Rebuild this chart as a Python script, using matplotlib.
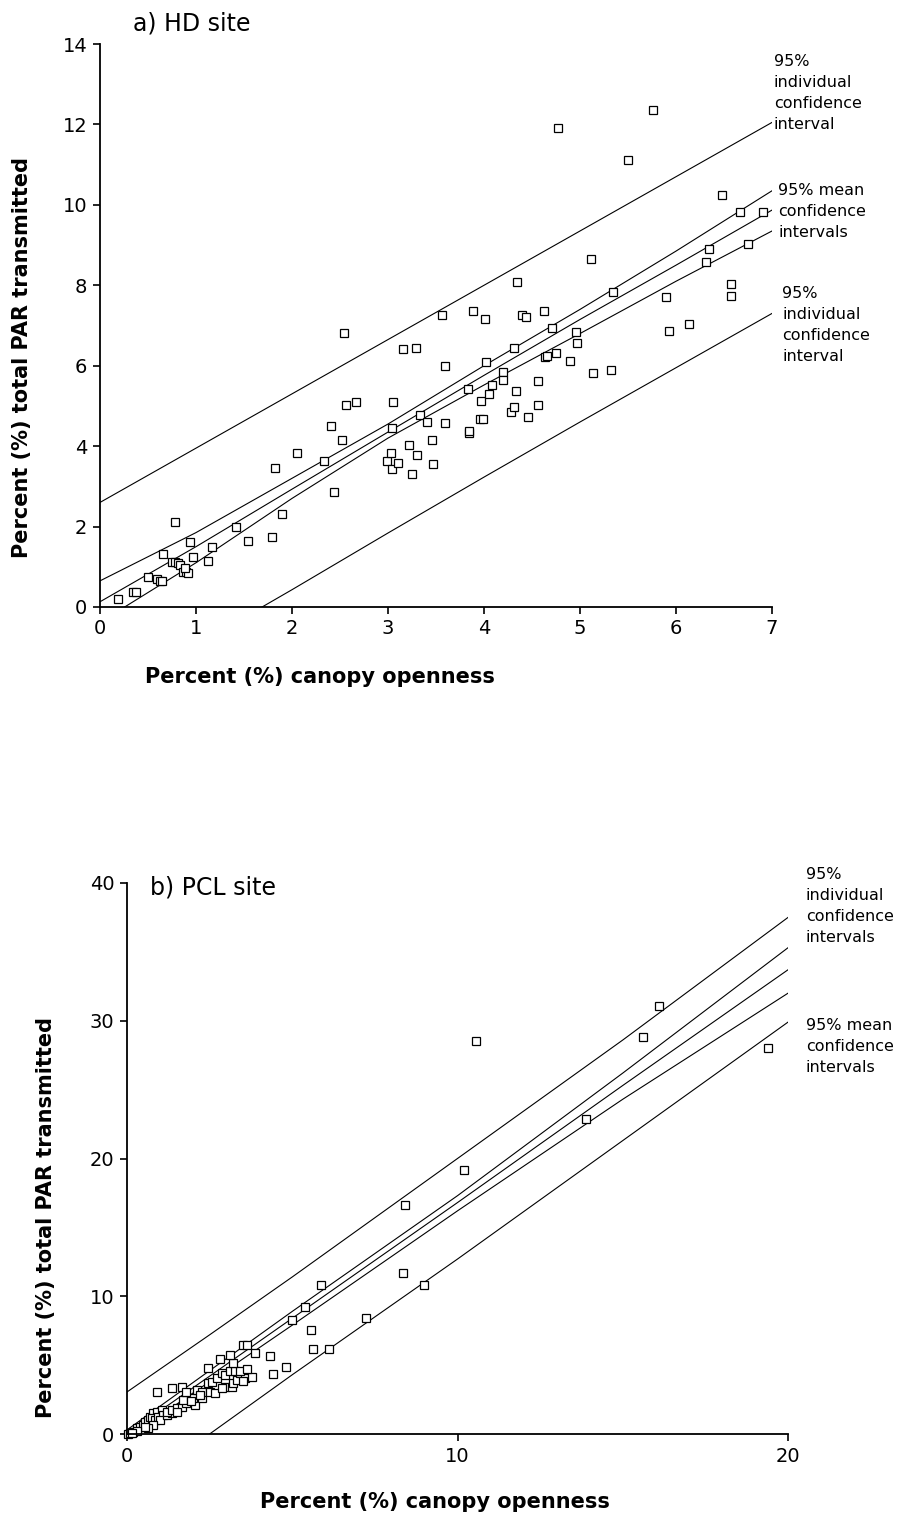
import matplotlib
matplotlib.use('Agg')
import matplotlib.pyplot as plt
import numpy as np

# ---- a) HD site: canopy openness vs PAR transmitted ----
hd_open = [0.19, 0.34, 0.38, 0.50, 0.59, 0.63, 0.65, 0.66, 0.75, 0.78,
           0.81, 0.83, 0.78, 0.86, 0.90, 0.92, 0.89, 0.94, 0.97, 1.13,
           1.17, 1.42, 1.54, 1.79, 1.82, 1.90, 2.05, 2.33, 2.41, 2.44,
           2.52, 2.56, 2.67, 2.54, 2.99, 3.03, 3.04, 3.05, 3.04, 3.10,
           3.16, 3.22, 3.25, 3.29, 3.30, 3.33, 3.41, 3.46, 3.47, 3.59,
           3.59, 3.83, 3.84, 3.84, 3.96, 3.99, 3.97, 4.02, 4.05, 4.08,
           4.20, 4.20, 4.28, 4.31, 4.31, 4.33, 4.46, 4.56, 4.56, 3.89,
           4.01, 4.40, 4.44, 4.63, 4.71, 4.96, 4.97, 4.64, 4.66, 4.75,
           4.90, 5.14, 5.32, 5.93, 6.14, 5.76, 4.77, 5.50, 6.48, 6.67,
           6.91, 6.34, 6.31, 6.75, 5.11, 5.34, 5.90, 6.57, 6.57, 4.34,
           3.56]
hd_par = [0.20, 0.37, 0.37, 0.75, 0.70, 0.65, 0.65, 1.32, 1.12, 1.12,
          1.09, 1.04, 2.11, 0.87, 0.87, 0.85, 0.97, 1.62, 1.25, 1.14,
          1.49, 2.00, 1.64, 1.74, 3.46, 2.31, 3.83, 3.63, 4.50, 2.86,
          4.15, 5.02, 5.10, 6.82, 3.63, 3.83, 4.45, 5.10, 3.43, 3.58,
          6.42, 4.03, 3.31, 6.44, 3.78, 4.78, 4.60, 4.15, 3.56, 6.00,
          4.58, 5.42, 4.33, 4.38, 4.68, 4.68, 5.12, 6.09, 5.30, 5.52,
          5.85, 5.65, 4.85, 4.98, 6.44, 5.37, 4.73, 5.62, 5.02, 7.36,
          7.16, 7.26, 7.21, 7.36, 6.94, 6.84, 6.57, 6.22, 6.24, 6.32,
          6.12, 5.82, 5.90, 6.87, 7.04, 12.36, 11.92, 11.12, 10.25, 9.83,
          9.83, 8.91, 8.58, 9.03, 8.66, 7.84, 7.71, 8.03, 7.74, 8.08,
          7.26]

hd_line_x = [0, 1, 2, 3, 4, 5, 6, 7]
hd_upper_ind = [2.60, 3.95, 5.30, 6.65, 8.00, 9.35, 10.70, 12.05]
hd_upper_mean = [0.65, 1.85, 3.20, 4.55, 6.00, 7.40, 8.85, 10.35]
hd_fit = [0.13, 1.50, 2.93, 4.35, 5.76, 7.15, 8.50, 9.87]
hd_lower_mean = [-0.38, 1.10, 2.70, 4.20, 5.52, 6.80, 8.10, 9.35]
hd_lower_ind = [-2.36, -0.95, 0.43, 1.84, 3.23, 4.60, 5.95, 7.30]

# ---- b) PCL site ----
pcl_open = [0.04, 0.09, 0.19, 0.29, 0.39, 0.49, 0.54, 0.64, 0.70, 0.80,
            0.90, 1.05, 0.75, 0.85, 0.95, 1.10, 1.00, 0.80, 0.64, 0.54,
            1.20, 1.35, 1.20, 1.35, 1.50, 1.66, 2.06, 1.80, 1.70, 2.00,
            2.26, 0.90, 1.35, 1.66, 1.80, 2.11, 2.26, 2.51, 2.66, 2.97,
            2.86, 3.17, 2.46, 2.56, 2.71, 3.22, 3.32, 3.42, 3.57, 3.77,
            2.86, 2.97, 3.12, 3.27, 3.42, 3.62, 2.46, 3.22, 2.81, 3.12,
            3.87, 3.52, 3.62, 4.33, 4.81, 4.41, 4.98, 5.39, 5.57, 5.62,
            6.12, 5.86, 7.22, 8.41, 8.36, 8.99, 10.20, 10.56, 13.90, 15.60,
            16.10, 19.40, 3.52, 1.50, 2.20, 1.95, 0.30, 0.15]
pcl_par = [0.00, 0.05, 0.17, 0.41, 0.53, 0.65, 0.89, 1.02, 1.26, 1.50,
           1.62, 1.74, 1.14, 1.02, 1.26, 1.38, 1.02, 0.65, 0.41, 0.53,
           1.38, 1.50, 1.62, 1.74, 1.86, 1.98, 2.10, 2.23, 2.47, 2.59,
           2.59, 3.07, 3.32, 3.44, 3.07, 3.20, 3.07, 3.07, 2.95, 3.44,
           3.32, 3.44, 3.68, 3.80, 4.04, 3.68, 3.92, 4.41, 4.04, 4.16,
           4.41, 4.28, 4.60, 4.60, 4.60, 4.70, 4.77, 5.18, 5.42, 5.74,
           5.90, 6.46, 6.46, 5.69, 4.89, 4.36, 8.30, 9.25, 7.55, 6.17,
           6.17, 10.80, 8.45, 16.60, 11.70, 10.80, 19.20, 28.50, 22.90, 28.80,
           31.10, 28.00, 3.85, 1.62, 2.80, 2.40, 0.20, 0.10]

pcl_line_x = [0, 2.5, 5, 10, 15, 20]
pcl_upper_ind = [3.05, 7.2, 11.4, 20.0, 28.6, 37.5]
pcl_upper_mean = [0.3, 4.6, 8.9, 17.3, 26.2, 35.3]
pcl_fit = [0.0, 4.2, 8.4, 16.8, 25.3, 33.7]
pcl_lower_mean = [-0.3, 3.8, 7.9, 16.2, 24.3, 32.0]
pcl_lower_ind = [-4.3, 0.0, 4.3, 12.7, 21.3, 29.9]

W, H = 903, 1515
fig = plt.figure(figsize=(W / 100, H / 100), dpi=100)
plt.rcParams['font.family'] = ['DejaVu Sans']


def px_box(left, right, top, bottom):
    return [left / W, 1 - bottom / H, (right - left) / W, (bottom - top) / H]


def draw_panel(ax, xs, ys, lx, lines, xlim, ylim, xticks, yticks):
    for vals in lines:
        ax.plot(lx, vals, color='black', lw=0.8)
    ax.plot(xs, ys, linestyle='none', marker='s', markersize=5.5,
            markerfacecolor='white', markeredgecolor='black', markeredgewidth=0.9,
            clip_on=False)
    ax.set_xlim(*xlim)
    ax.set_ylim(*ylim)
    ax.set_xticks(xticks)
    ax.set_yticks(yticks)
    for s in ['top', 'right']:
        ax.spines[s].set_visible(False)
    for s in ['left', 'bottom']:
        ax.spines[s].set_linewidth(1.3)
    ax.tick_params(direction='out', length=5, width=1.2, labelsize=14, pad=4)


label_kw = dict(fontsize=15, fontweight='bold', ha='center', va='center')
note_kw = dict(fontsize=11.5, ha='left', va='top', linespacing=1.5)

# a) HD site
ax1 = fig.add_axes(px_box(100, 772, 44, 607))
draw_panel(ax1, hd_open, hd_par, hd_line_x,
           [hd_upper_ind, hd_upper_mean, hd_fit, hd_lower_mean, hd_lower_ind],
           (0, 7), (0, 14), range(0, 8), range(0, 15, 2))
fig.text(133 / W, 1 - 23 / H, 'a) HD site', fontsize=17, va='center', ha='left')
fig.text(320 / W, 1 - 677 / H, 'Percent (%) canopy openness', **label_kw)
fig.text(22 / W, 1 - 357 / H, 'Percent (%) total PAR transmitted',
         rotation=90, **label_kw)

fig.text(774 / W, 1 - 54 / H, '95%\nindividual\nconfidence\ninterval', **note_kw)
fig.text(778 / W, 1 - 183 / H, '95% mean\nconfidence\nintervals', **note_kw)
fig.text(782 / W, 1 - 286 / H, '95%\nindividual\nconfidence\ninterval', **note_kw)

# b) PCL site
ax2 = fig.add_axes(px_box(127, 788, 883, 1434))
draw_panel(ax2, pcl_open, pcl_par, pcl_line_x,
           [pcl_upper_ind, pcl_upper_mean, pcl_fit, pcl_lower_mean, pcl_lower_ind],
           (0, 20), (0, 40), [0, 10, 20], range(0, 41, 10))
fig.text(150 / W, 1 - 887 / H, 'b) PCL site', fontsize=17, va='center', ha='left')
fig.text(435 / W, 1 - 1502 / H, 'Percent (%) canopy openness', **label_kw)
fig.text(46 / W, 1 - 1218 / H, 'Percent (%) total PAR transmitted',
         rotation=90, **label_kw)
fig.text(806 / W, 1 - 867 / H, '95%\nindividual\nconfidence\nintervals', **note_kw)
fig.text(806 / W, 1 - 1018 / H, '95% mean\nconfidence\nintervals', **note_kw)

fig.savefig('out.png', dpi=100, facecolor='white')
